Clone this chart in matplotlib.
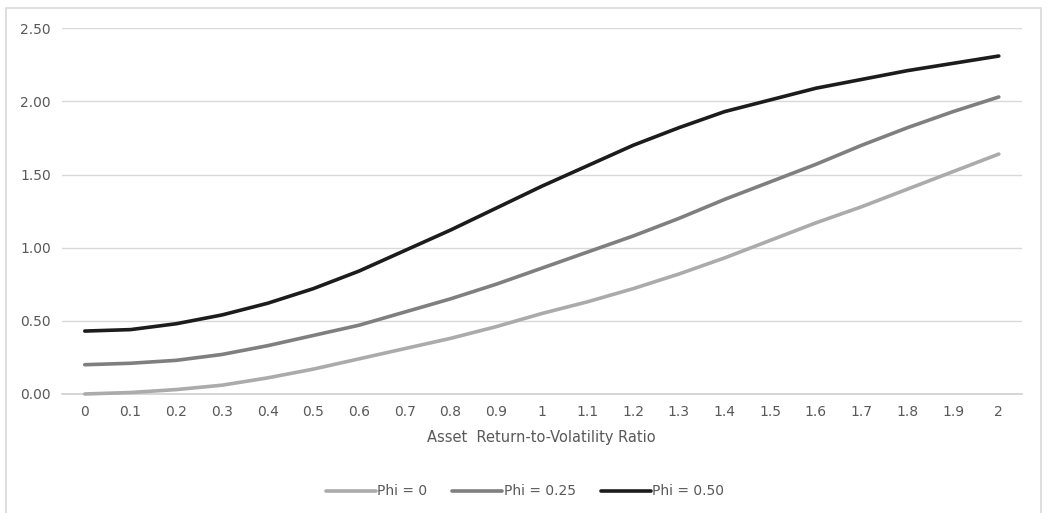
import matplotlib.pyplot as plt
from matplotlib.patches import Rectangle

# x categories (asset return-to-volatility ratio)
ratios = ["0", "0.1", "0.2", "0.3", "0.4", "0.5", "0.6", "0.7", "0.8", "0.9", "1",
          "1.1", "1.2", "1.3", "1.4", "1.5", "1.6", "1.7", "1.8", "1.9", "2"]

phi_0 = [0.00, 0.01, 0.03, 0.06, 0.11, 0.17, 0.24, 0.31, 0.38, 0.46, 0.55,
         0.63, 0.72, 0.82, 0.93, 1.05, 1.17, 1.28, 1.40, 1.52, 1.64]
phi_025 = [0.20, 0.21, 0.23, 0.27, 0.33, 0.40, 0.47, 0.56, 0.65, 0.75, 0.86,
           0.97, 1.08, 1.20, 1.33, 1.45, 1.57, 1.70, 1.82, 1.93, 2.03]
phi_050 = [0.43, 0.44, 0.48, 0.54, 0.62, 0.72, 0.84, 0.98, 1.12, 1.27, 1.42,
           1.56, 1.70, 1.82, 1.93, 2.01, 2.09, 2.15, 2.21, 2.26, 2.31]

series = [("Phi = 0", phi_0, "#ababab"),
          ("Phi = 0.25", phi_025, "#7f7f7f"),
          ("Phi = 0.50", phi_050, "#1c1c1c")]

txt = "#595959"
fig = plt.figure(figsize=(10.5, 5.13), dpi=100)
ax = fig.add_axes([0.059, 0.232, 0.914, 0.713])

xs = list(range(len(ratios)))
for name, vals, col in series:
    ax.plot(xs, vals, color=col, lw=2.6, label=name, solid_capstyle="round",
            clip_on=False, zorder=3)

ax.set_xlim(-0.5, len(ratios) - 0.5)
ax.set_ylim(0, 2.5)
ax.set_yticks([0, 0.5, 1.0, 1.5, 2.0, 2.5])
ax.set_yticklabels([f"{v:.2f}" for v in [0, 0.5, 1.0, 1.5, 2.0, 2.5]])
ax.set_xticks(xs)
ax.set_xticklabels(ratios)
ax.tick_params(length=0, labelsize=10, labelcolor=txt, pad=8)
ax.grid(axis="y", color="#d9d9d9", lw=1)
ax.axhline(0, color="#d0d0d0", lw=1.2, zorder=1, clip_on=False)
ax.set_axisbelow(True)
for s in ax.spines.values():
    s.set_visible(False)
ax.set_xlabel("Asset  Return-to-Volatility Ratio", fontsize=10.5, color=txt, labelpad=8)

leg = fig.legend(loc="center", bbox_to_anchor=(0.5, 0.042), ncol=3, frameon=False,
                 fontsize=10, handlelength=3.6, handletextpad=0.1, columnspacing=1.8)
for t in leg.get_texts():
    t.set_color(txt)

fig.patches.append(Rectangle((0.006, -0.01), 0.985, 0.995, transform=fig.transFigure,
                             fill=False, edgecolor="#d9d9d9", lw=1.2))

fig.savefig("out.png", dpi=100)
